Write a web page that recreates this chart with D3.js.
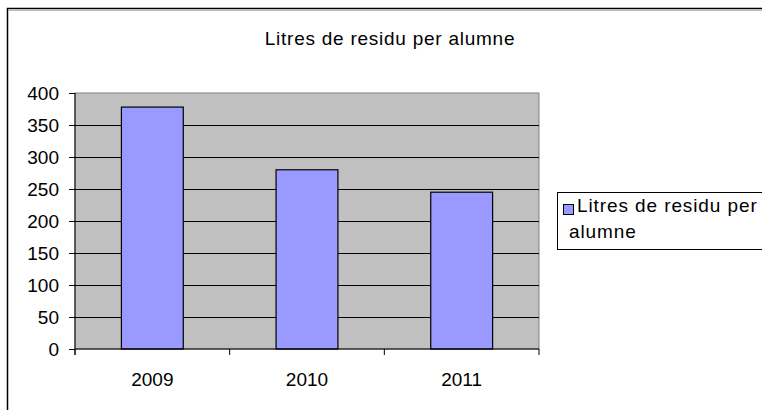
<!DOCTYPE html>
<html>
<head>
<meta charset="utf-8">
<script src="https://cdn.jsdelivr.net/npm/d3@7"></script>
<style>
  body { margin: 0; background: #fff; }
  text { font-family: "Liberation Sans", Arial, sans-serif; fill: #000; }
</style>
</head>
<body>
<div id="chart"></div>
<script>
const years = ['2009', '2010', '2011'];
const litres = [378, 280, 245];
const yTicks = [0, 50, 100, 150, 200, 250, 300, 350, 400];
const seriesName = 'Litres de residu per alumne';
const legendLines = ['Litres de residu per', 'alumne'];

const width = 762;
const height = 410;
const plot = { left: 75, right: 539, top: 93, bottom: 349 };

const svg = d3.select('#chart')
  .append('svg')
  .attr('width', width)
  .attr('height', height);

// outer chart frame (runs off the right/bottom of the picture)
svg.append('rect')
  .attr('x', 7.5).attr('y', 8.5)
  .attr('width', 800).attr('height', 500)
  .attr('fill', 'none')
  .attr('stroke', '#000')
  .attr('stroke-width', 1.5);
svg.append('line')
  .attr('x1', 9).attr('x2', width)
  .attr('y1', 10.5).attr('y2', 10.5)
  .attr('stroke', '#bbb');

const x = d3.scaleBand()
  .domain(years)
  .range([plot.left, plot.right])
  .paddingInner(0.6)
  .paddingOuter(0.3);

const y = d3.scaleLinear()
  .domain([0, 400])
  .range([plot.bottom, plot.top]);

// plot background
svg.append('rect')
  .attr('x', plot.left).attr('y', plot.top)
  .attr('width', plot.right - plot.left)
  .attr('height', plot.bottom - plot.top)
  .attr('fill', '#c0c0c0')
  .attr('stroke', '#808080')
  .attr('stroke-width', 1);

// gridlines
svg.append('g')
  .selectAll('line')
  .data(yTicks.filter((d) => d > 0 && d < 400))
  .join('line')
  .attr('x1', plot.left).attr('x2', plot.right)
  .attr('y1', (d) => Math.round(y(d)) + 0.5)
  .attr('y2', (d) => Math.round(y(d)) + 0.5)
  .attr('stroke', '#000')
  .attr('stroke-width', 1);

// bars
svg.append('g')
  .selectAll('rect')
  .data(litres)
  .join('rect')
  .attr('x', (d, i) => x(years[i]))
  .attr('y', (d) => y(d))
  .attr('width', x.bandwidth())
  .attr('height', (d) => y(0) - y(d))
  .attr('fill', '#9999ff')
  .attr('stroke', '#000')
  .attr('stroke-width', 1.2);

// y axis
const yAxis = svg.append('g')
  .attr('transform', `translate(${plot.left},0)`)
  .call(d3.axisLeft(y).tickValues(yTicks).tickSize(6).tickPadding(10));
yAxis.select('.domain').attr('stroke', '#000').attr('d', `M0,${plot.top}V${plot.bottom + 6}`);
yAxis.selectAll('text').attr('font-size', '19px').attr('font-family', '"Liberation Sans", Arial, sans-serif');

// x axis: ticks on category boundaries
const xAxis = svg.append('g')
  .attr('transform', `translate(0,${plot.bottom})`);
xAxis.append('line')
  .attr('x1', plot.left).attr('x2', plot.right)
  .attr('stroke', '#000');
const step = (plot.right - plot.left) / years.length;
xAxis.selectAll('.tk')
  .data(d3.range(years.length + 1))
  .join('line')
  .attr('class', 'tk')
  .attr('x1', (i) => plot.left + i * step)
  .attr('x2', (i) => plot.left + i * step)
  .attr('y1', 0).attr('y2', 6)
  .attr('stroke', '#000');
xAxis.selectAll('.lbl')
  .data(years)
  .join('text')
  .attr('class', 'lbl')
  .attr('x', (d) => x(d) + x.bandwidth() / 2)
  .attr('y', 37)
  .attr('text-anchor', 'middle')
  .attr('font-size', '19px')
  .text((d) => d);

// title
svg.append('text')
  .attr('x', 390)
  .attr('y', 45)
  .attr('text-anchor', 'middle')
  .attr('font-size', '19px')
  .attr('letter-spacing', '0.75px')
  .text(seriesName);

// legend
const legend = svg.append('g');
legend.append('rect')
  .attr('x', 557.5).attr('y', 192.5)
  .attr('width', 210).attr('height', 57)
  .attr('fill', '#fff')
  .attr('stroke', '#000');
legend.append('rect')
  .attr('x', 563.5).attr('y', 204.5)
  .attr('width', 10).attr('height', 10)
  .attr('fill', '#9999ff')
  .attr('stroke', '#000');
legend.append('text')
  .attr('font-size', '19px')
  .attr('letter-spacing', '0.9px')
  .selectAll('tspan')
  .data(legendLines)
  .join('tspan')
  .attr('x', (d, i) => (i === 0 ? 577 : 569))
  .attr('y', (d, i) => 212 + i * 26)
  .text((d) => d);
</script>
</body>
</html>
